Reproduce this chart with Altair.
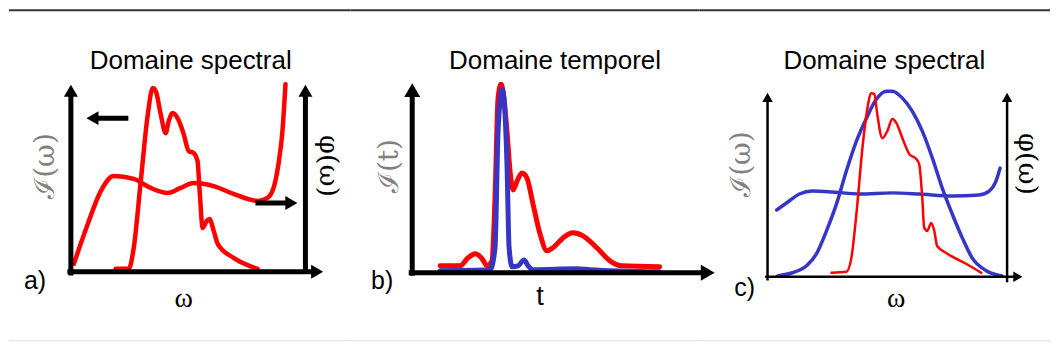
import altair as alt
import pandas as pd

# ---------------- data (normalised units: 0 = axis origin, 1 = axis length) -------------
# panel a : spectral domain, phase and intensity (red)
a_phase_u = [0.013, 0.072, 0.128, 0.183, 0.268, 0.340, 0.413, 0.468, 0.523, 0.609, 0.694, 0.796, 0.838, 0.864, 0.885, 0.902, 0.915]
a_phase_v = [0.043, 0.255, 0.431, 0.511, 0.495, 0.447, 0.420, 0.447, 0.473, 0.457, 0.415, 0.378, 0.394, 0.447, 0.574, 0.750, 1.000]
a_int_u = [0.191, 0.247, 0.268, 0.298, 0.328, 0.349, 0.362, 0.383, 0.404, 0.417, 0.434, 0.455, 0.481, 0.502, 0.523, 0.540, 0.549, 0.562, 0.579, 0.591, 0.609, 0.626, 0.694, 0.796]
a_int_v = [0.016, 0.016, 0.128, 0.484, 0.840, 0.979, 0.963, 0.840, 0.739, 0.803, 0.846, 0.819, 0.734, 0.644, 0.633, 0.590, 0.431, 0.234, 0.271, 0.282, 0.218, 0.149, 0.074, 0.016]

# panel b : temporal domain, red and blue pulses
b_red_u = [0.119, 0.204, 0.238, 0.268, 0.298, 0.319, 0.340, 0.353, 0.366, 0.379, 0.387, 0.404, 0.417, 0.430, 0.447, 0.468, 0.489, 0.515, 0.545, 0.574, 0.600, 0.643, 0.685, 0.728, 0.787, 0.843, 0.894, 1.055]
b_red_v = [0.037, 0.037, 0.079, 0.100, 0.074, 0.037, 0.063, 0.395, 0.921, 0.995, 0.958, 0.747, 0.537, 0.437, 0.484, 0.526, 0.500, 0.363, 0.205, 0.116, 0.132, 0.184, 0.211, 0.195, 0.132, 0.063, 0.037, 0.032]
b_blue_u = [0.119, 0.332, 0.353, 0.366, 0.383, 0.391, 0.404, 0.413, 0.426, 0.451, 0.477, 0.494, 0.515, 0.702, 0.757, 1.055]
b_blue_v = [0.011, 0.016, 0.132, 0.747, 0.968, 0.921, 0.574, 0.132, 0.032, 0.037, 0.068, 0.037, 0.016, 0.021, 0.016, 0.005]

# panel c : spectral domain after correction
c_gauss_u = [0.042, 0.104, 0.163, 0.204, 0.246, 0.288, 0.329, 0.371, 0.413, 0.454, 0.496, 0.521, 0.563, 0.604, 0.646, 0.688, 0.729, 0.771, 0.813, 0.854, 0.913, 0.979]
c_gauss_v = [0.005, 0.022, 0.060, 0.125, 0.250, 0.397, 0.576, 0.739, 0.864, 0.967, 1.011, 1.011, 0.973, 0.902, 0.793, 0.647, 0.484, 0.342, 0.212, 0.103, 0.033, 0.005]
c_phase_u = [0.038, 0.079, 0.133, 0.188, 0.271, 0.383, 0.521, 0.633, 0.771, 0.883, 0.925, 0.954, 0.971]
c_phase_v = [0.364, 0.402, 0.451, 0.467, 0.462, 0.451, 0.457, 0.451, 0.440, 0.446, 0.467, 0.522, 0.592]
c_red_u = [0.267, 0.329, 0.350, 0.371, 0.396, 0.417, 0.433, 0.446, 0.458, 0.479, 0.500, 0.521, 0.538, 0.563, 0.592, 0.621, 0.633, 0.646, 0.654, 0.667, 0.683, 0.696, 0.708, 0.746, 0.829, 0.892]
c_red_v = [0.022, 0.027, 0.103, 0.342, 0.701, 0.918, 1.000, 0.995, 0.886, 0.755, 0.793, 0.859, 0.837, 0.755, 0.668, 0.641, 0.614, 0.429, 0.266, 0.250, 0.293, 0.250, 0.168, 0.130, 0.071, 0.022]

RED = "#ff0000"
BLUE = "#3535c8"
BLACK = "#000000"
GREY = "#808080"

# panel geometry (page pixels) used only to set scale domains
TOP, BOTTOM = 8, 341
GEOM = {
    "a": dict(left=8, right=350, ox=70, oy=271, ux=235, uy=188),
    "b": dict(left=350, right=700, ox=412, oy=272, ux=235, uy=190),
    "c": dict(left=700, right=1051, ox=768, oy=276, ux=240, uy=184),
}


def make_panel(key, curves, rules, heads, texts):
    g = GEOM[key]
    xdom = [(g["left"] - g["ox"]) / g["ux"], (g["right"] - g["ox"]) / g["ux"]]
    ydom = [(g["oy"] - BOTTOM) / g["uy"], (g["oy"] - TOP) / g["uy"]]
    xs = alt.Scale(domain=xdom, nice=False, zero=False)
    ys = alt.Scale(domain=ydom, nice=False, zero=False)
    layers = []
    # frame lines of the picture (dark at the top, faint at the bottom)
    frame = pd.DataFrame({"u": [xdom[0], xdom[0]], "u2": [xdom[1], xdom[1]],
                          "v": [ydom[1] - 1.0 / g["uy"], ydom[0] + 1.0 / g["uy"]],
                          "c": ["#333333", "#dddddd"], "w": [2, 1]})
    layers.append(alt.Chart(frame).mark_rule().encode(
        x=alt.X("u:Q", scale=xs, axis=None), x2="u2:Q", y=alt.Y("v:Q", scale=ys, axis=None),
        color=alt.Color("c:N", scale=None), strokeWidth=alt.StrokeWidth("w:Q", scale=None)))
    for (us, vs, color, sw) in curves:
        df = pd.DataFrame({"u": us, "v": vs})
        layers.append(alt.Chart(df).mark_line(color=color, strokeWidth=sw, interpolate="monotone",
                                              strokeCap="round", strokeJoin="round").encode(
            x=alt.X("u:Q", scale=xs, axis=None), y=alt.Y("v:Q", scale=ys, axis=None)))
    for (u, u2, v, v2, sw) in rules:
        df = pd.DataFrame({"u": [u], "u2": [u2], "v": [v], "v2": [v2]})
        layers.append(alt.Chart(df).mark_rule(color=BLACK, strokeWidth=sw, strokeCap="butt").encode(
            x=alt.X("u:Q", scale=xs, axis=None), x2="u2:Q",
            y=alt.Y("v:Q", scale=ys, axis=None), y2="v2:Q"))
    for (u, v, shape, size) in heads:
        df = pd.DataFrame({"u": [u], "v": [v]})
        layers.append(alt.Chart(df).mark_point(shape=shape, size=size, filled=True, color=BLACK,
                                               opacity=1, strokeWidth=0).encode(
            x=alt.X("u:Q", scale=xs, axis=None), y=alt.Y("v:Q", scale=ys, axis=None)))
    for (txt, u, v, font, size, angle, color) in texts:
        df = pd.DataFrame({"u": [u], "v": [v], "t": [txt]})
        layers.append(alt.Chart(df).mark_text(font=font, fontSize=size, angle=angle, color=color,
                                              align="center", baseline="middle").encode(
            x=alt.X("u:Q", scale=xs, axis=None), y=alt.Y("v:Q", scale=ys, axis=None), text="t:N"))
    return alt.layer(*layers).properties(width=g["right"] - g["left"], height=BOTTOM - TOP)


SANS = "Liberation Sans"
SERIF = "DejaVu Serif"
TSERIF = "Liberation Serif"

panel_a = make_panel(
    "a",
    curves=[(a_phase_u, a_phase_v, RED, 4.5), (a_int_u, a_int_v, RED, 4.5)],
    rules=[(0, 0, -0.02, 0.94, 5), (-0.015, 1.03, 0, 0, 5), (1.0, 1.0, 0, 0.94, 5),
           (0.10, 0.245, 0.819, 0.819, 5), (0.787, 0.925, 0.367, 0.367, 5)],
    heads=[(0, 0.965, "triangle-up", 196), (1.0, 0.965, "triangle-up", 196),
           (1.05, 0, "triangle-right", 196), (0.092, 0.819, "triangle-left", 196),
           (0.94, 0.367, "triangle-right", 196)],
    texts=[("Domaine spectral", 0.511, 1.122, SANS, 26, 0, BLACK),
           ("a)", -0.153, -0.048, SANS, 25, 0, BLACK),
           ("ω", 0.481, -0.144, TSERIF, 28, 0, BLACK),
           ("ℐ(ω)", -0.106, 0.564, SERIF, 28, 270, GREY),
           ("φ(ω)", 1.098, 0.564, SERIF, 27, 90, BLACK)],
)

panel_b = make_panel(
    "b",
    curves=[(b_red_u, b_red_v, RED, 5), (b_blue_u, b_blue_v, BLUE, 5)],
    rules=[(0, 0, -0.015, 0.93, 5), (-0.015, 1.235, 0, 0, 5)],
    heads=[(0, 0.963, "triangle-up", 256), (1.26, 0, "triangle-right", 256)],
    texts=[("Domaine temporel", 0.609, 1.116, SANS, 26, 0, BLACK),
           ("b)", -0.128, -0.042, SANS, 25, 0, BLACK),
           ("t", 0.545, -0.126, SANS, 27, 0, BLACK),
           ("ℐ(t)", -0.094, 0.563, SERIF, 28, 270, GREY)],
)

panel_c = make_panel(
    "c",
    curves=[(c_gauss_u, c_gauss_v, BLUE, 3.5), (c_phase_u, c_phase_v, BLUE, 3.5), (c_red_u, c_red_v, RED, 2.5)],
    rules=[(0, 0, -0.02, 0.96, 2.5), (-0.01, 1.03, 0, 0, 2.5), (1.0, 1.0, -0.03, 0.96, 2.5)],
    heads=[(0, 0.977, "triangle-up", 110), (1.0, 0.977, "triangle-up", 110),
           (1.045, 0, "triangle-right", 110)],
    texts=[("Domaine spectral", 0.4875, 1.174, SANS, 26, 0, BLACK),
           ("c)", -0.096, -0.060, SANS, 25, 0, BLACK),
           ("ω", 0.5375, -0.120, TSERIF, 28, 0, BLACK),
           ("ℐ(ω)", -0.108, 0.614, SERIF, 28, 270, GREY),
           ("φ(ω)", 1.083, 0.614, SERIF, 27, 90, BLACK)],
)

chart = alt.hconcat(panel_a, panel_b, panel_c, spacing=0, bounds="flush").properties(
    padding=0, background="white"
).configure_view(stroke=None)

chart.save("out.html", embed_options={"renderer": "svg", "actions": False})
